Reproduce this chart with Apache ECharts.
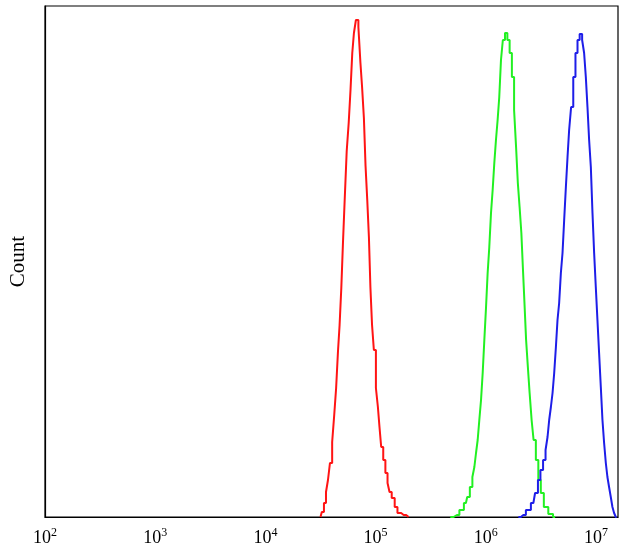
<!DOCTYPE html>
<html>
<head>
<meta charset="utf-8">
<script src="https://cdn.jsdelivr.net/npm/echarts@6/dist/echarts.min.js"></script>
<style>html,body{margin:0;padding:0;background:#fff}#c{width:626px;height:551px}</style>
</head>
<body>
<div id="c"></div>
<script>
// log10 of fluorescence intensity, and counts (arbitrary units)
const redLog = [4.500,4.524,4.539,4.561,4.575,4.597,4.615,4.633,4.651,4.666,4.681,4.697,4.711,4.729,4.747,4.765,4.781,4.796,4.811,4.832,4.856,4.868,4.887,4.901,4.917,4.932,4.947,4.959,4.977,4.992,5.014,5.028,5.043,5.059,5.080,5.098,5.119,5.134,5.159,5.188,5.209,5.255,5.300];
const redCount = [0,5,14,25,37,54,75,101,129,165,192,229,274,318,366,394,428,464,484,497,490,455,430,399,351,317,280,230,192,167,129,110,90,70,57,44,34,25,19,10,4,2,0];

const greenLog = [5.678,5.738,5.783,5.820,5.843,5.868,5.889,5.904,5.919,5.934,5.949,5.965,5.979,5.995,6.010,6.024,6.040,6.055,6.070,6.085,6.100,6.115,6.130,6.146,6.164,6.185,6.207,6.226,6.248,6.266,6.284,6.298,6.316,6.330,6.343,6.357,6.375,6.389,6.407,6.425,6.443,6.466,6.488,6.511,6.543,6.592,6.629];
const greenCount = [0,2,7,14,20,30,40,50,64,77,97,117,144,177,210,244,270,304,327,354,377,397,420,457,477,484,477,464,440,407,370,334,310,284,250,217,177,150,124,97,77,57,37,24,10,3,0];

const blueLog = [6.296,6.341,6.387,6.432,6.463,6.484,6.508,6.532,6.553,6.568,6.583,6.599,6.613,6.629,6.644,6.658,6.674,6.689,6.704,6.719,6.735,6.749,6.764,6.785,6.803,6.825,6.840,6.864,6.885,6.900,6.916,6.930,6.946,6.961,6.976,6.991,7.006,7.021,7.036,7.052,7.066,7.082,7.097,7.111,7.127,7.142,7.157,7.172,7.188];
const blueCount = [0,2,7,14,24,37,47,57,67,80,97,110,124,144,170,197,214,244,264,297,330,360,387,410,440,464,477,483,477,464,440,410,377,350,304,264,230,197,164,130,97,74,54,40,30,20,10,4,0];

const xMinExp = 2, xMaxExp = 7.2;
const yMax = 511;

function pairs(logs, counts){ return logs.map((l,i)=>[l, counts[i]]); }

const chart = echarts.init(document.getElementById('c'), null, {renderer:'canvas'});
const mk = (data, color) => ({
  type:'line', data, step:'middle', symbol:'none', smooth:false,
  lineStyle:{color, width:2}, animation:false
});
chart.setOption({
  animation:false,
  grid:{left:44, top:6, right:8, bottom:34, show:true, borderColor:'#000', borderWidth:1.2, backgroundColor:'#fff'},
  xAxis:{
    type:'value', min:xMinExp, max:xMaxExp, interval:1,
    axisLine:{show:true, lineStyle:{color:'#000', width:1.2}},
    axisTick:{show:false}, splitLine:{show:false},
    axisLabel:{
      margin:10, showMaxLabel:false,
      formatter:function(v){
        const r = Math.round(v);
        if (Math.abs(v-r) > 0.001) return '';
        return '{b|10}{s|' + r + '}';
      },
      rich:{
        b:{fontFamily:'Liberation Serif', fontSize:18, color:'#000', verticalAlign:'bottom', lineHeight:20},
        s:{fontFamily:'Liberation Serif', fontSize:12, color:'#000', verticalAlign:'top', lineHeight:20}
      }
    }
  },
  yAxis:{
    type:'value', min:0, max:yMax,
    axisLine:{show:true, lineStyle:{color:'#000', width:1.2}},
    axisTick:{show:false}, axisLabel:{show:false}, splitLine:{show:false},
    name:'Count', nameLocation:'middle', nameRotate:90, nameGap:16,
    nameTextStyle:{fontFamily:'Liberation Serif', fontSize:21, color:'#000'}
  },
  series:[
    mk(pairs(redLog, redCount), '#ff1414'),
    mk(pairs(greenLog, greenCount), '#22f022'),
    mk(pairs(blueLog, blueCount), '#1e1ee8')
  ]
});
</script>
</body>
</html>
